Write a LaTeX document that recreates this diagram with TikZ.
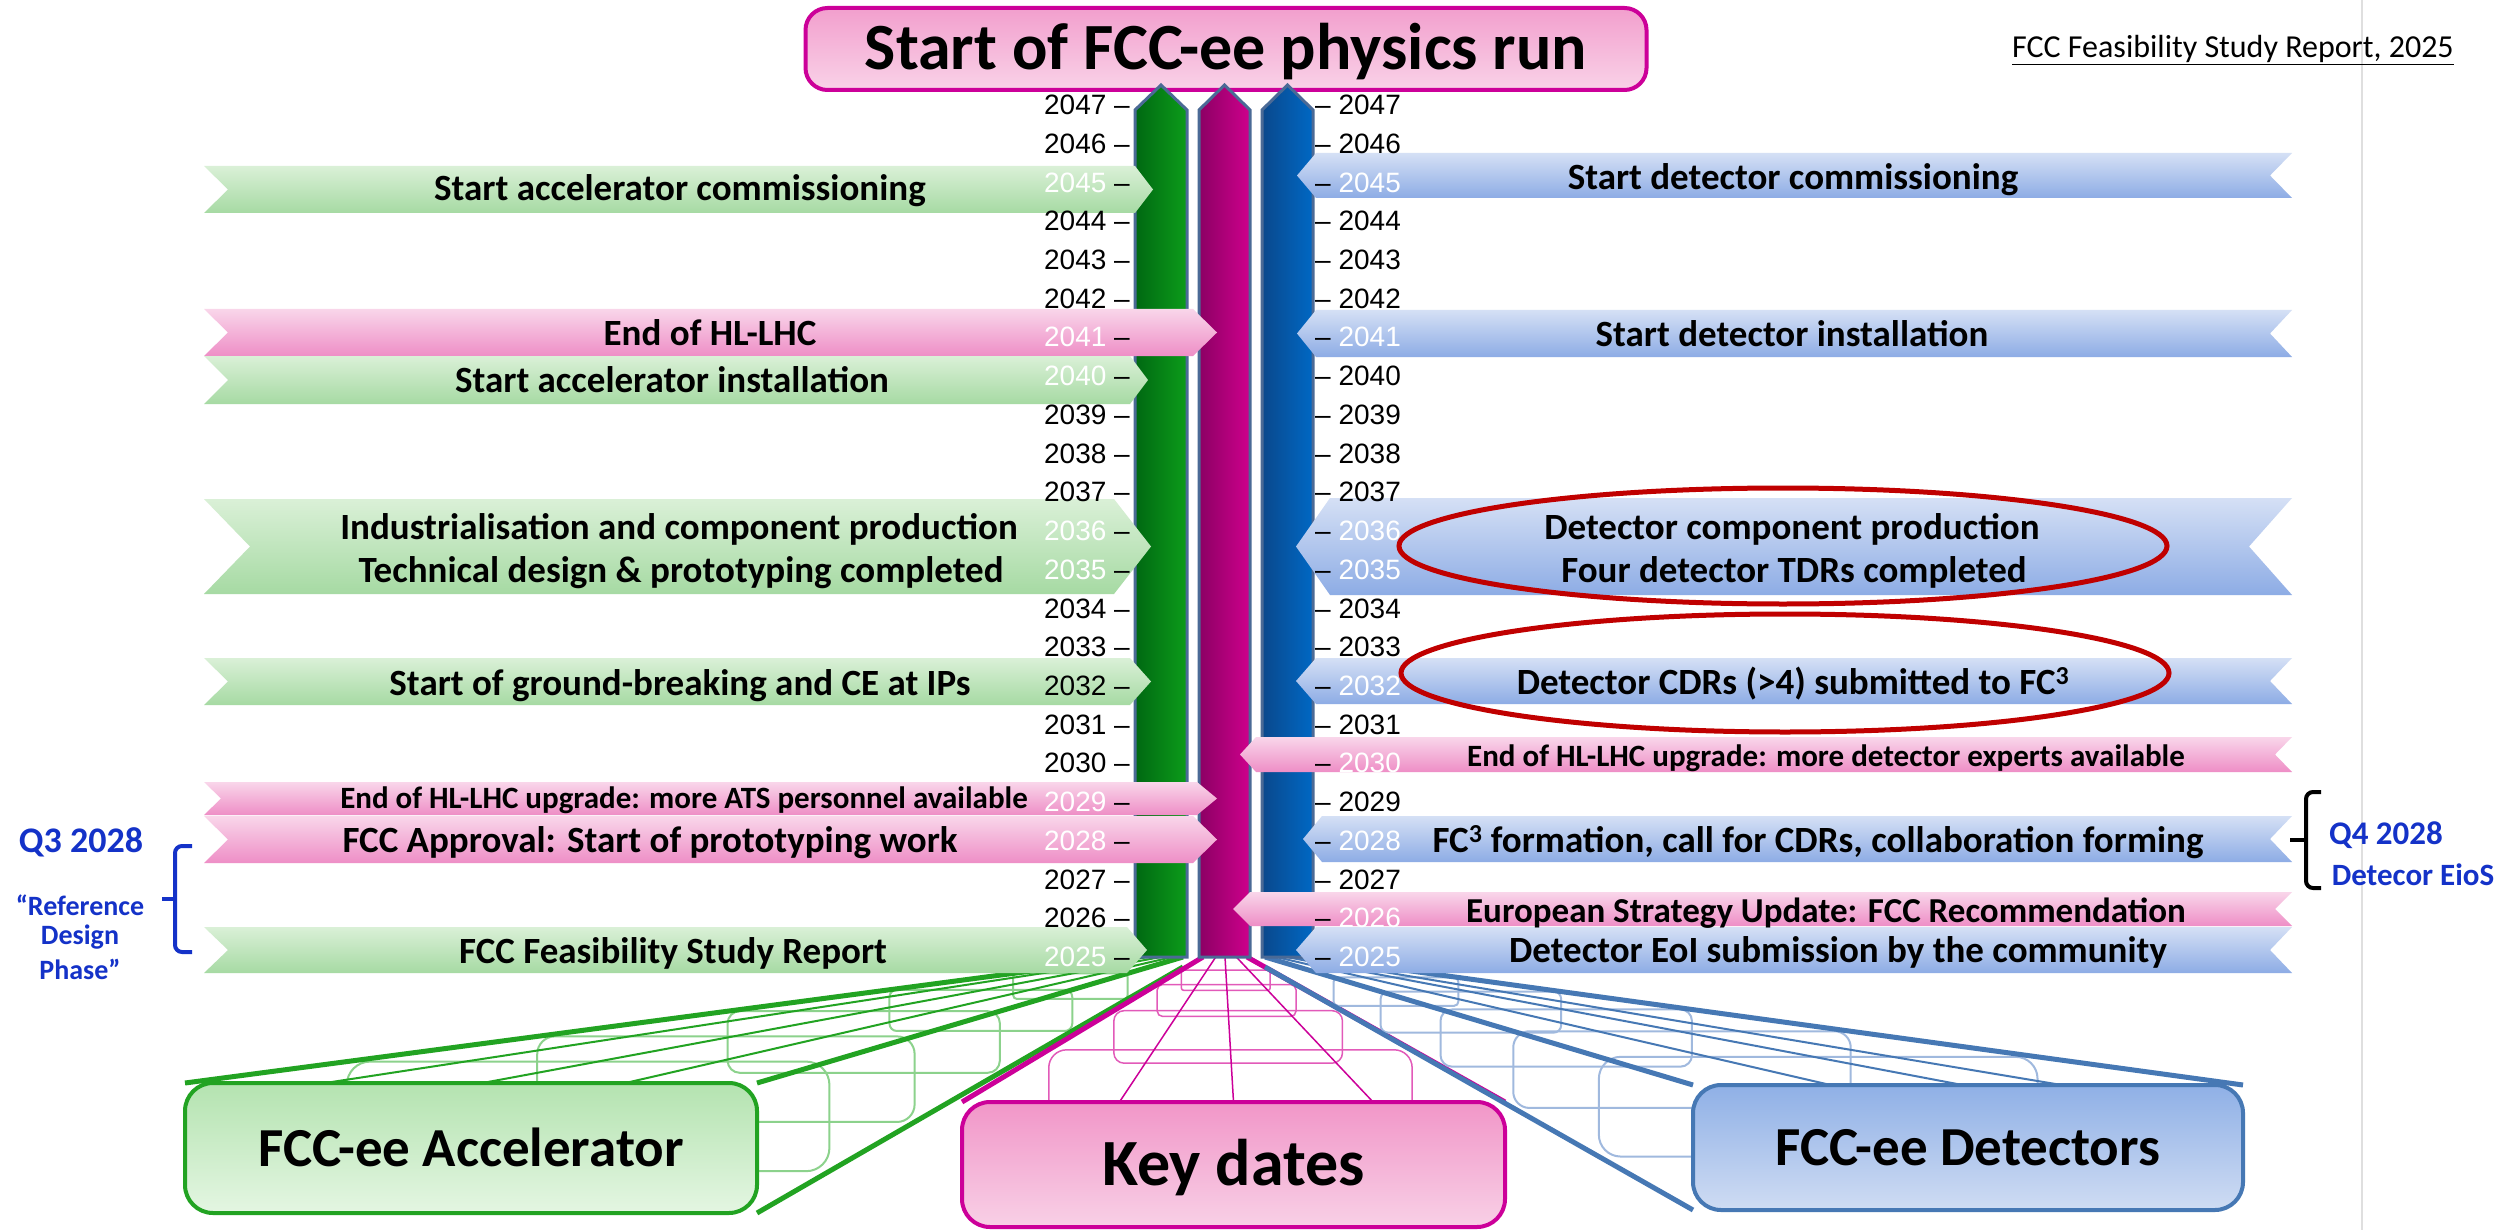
\documentclass[tikz,border=0pt]{standalone}
\usepackage{fontspec}
\setmainfont{Carlito}
\newfontfamily\yearfont{Liberation Sans}
\definecolor{gbarA}{RGB}{0,104,18}
\definecolor{gbarB}{RGB}{12,156,26}
\definecolor{mbarA}{RGB}{140,0,100}
\definecolor{mbarB}{RGB}{206,0,140}
\definecolor{bbarA}{RGB}{10,72,140}
\definecolor{bbarB}{RGB}{0,104,196}
\definecolor{barout}{RGB}{75,106,150}
\definecolor{gtop}{RGB}{218,240,215}
\definecolor{gbot}{RGB}{166,218,163}
\definecolor{ptop}{RGB}{249,214,234}
\definecolor{pbot}{RGB}{238,142,198}
\definecolor{btop}{RGB}{213,224,245}
\definecolor{bbot}{RGB}{141,172,229}
\definecolor{gline}{RGB}{34,163,34}
\definecolor{grib}{RGB}{140,210,140}
\definecolor{mline}{RGB}{204,0,153}
\definecolor{mrib}{RGB}{226,90,185}
\definecolor{bline}{RGB}{70,120,180}
\definecolor{brib}{RGB}{160,185,222}
\definecolor{annblue}{RGB}{20,50,200}
\definecolor{ellred}{RGB}{192,0,0}
\definecolor{gboxA}{RGB}{180,227,176}
\definecolor{gboxB}{RGB}{228,246,226}
\definecolor{pboxA}{RGB}{241,150,200}
\definecolor{pboxB}{RGB}{248,208,230}
\definecolor{bboxA}{RGB}{143,176,230}
\definecolor{bboxB}{RGB}{207,220,243}
\definecolor{ttlA}{RGB}{242,159,205}
\definecolor{ttlB}{RGB}{249,210,232}

\newcommand\ribs[2]{\foreach \t in {#1}{%
 \pgfmathsetmacro\xa{\fxa+\t*(\nxa-\fxa)}%
 \pgfmathsetmacro\ya{\fya+\t*(\nya-\fya)}%
 \pgfmathsetmacro\xb{\fxb+\t*(\nxb-\fxb)}%
 \pgfmathsetmacro\yb{\fyb+\t*(\nyb-\fyb)}%
 \pgfmathsetmacro\rr{28*\t}%
 \draw[#2,rounded corners=\rr pt] (\xa,\ya) rectangle (\xb,\yb);}}
\newcommand\topline[2]{\draw[#2] ({\nxa+#1*(\nxb-\nxa)},\nya) -- ({\fxa+#1*(\fxb-\fxa)},\fya);}
\newcommand\LB[6]{\path[#1] (204,#2) -- (#4,#2) -- (#5,{(#2+#3)/2}) -- (#4,#3) -- (204,#3) -- ({204+#6},{(#2+#3)/2}) -- cycle;}
\newcommand\RB[6]{\path[#1] (#4,{(#2+#3)/2}) -- (#5,#2) -- (2292,#2) -- ({2292-#6},{(#2+#3)/2}) -- (2292,#3) -- (#5,#3) -- cycle;}

\begin{document}
\begin{tikzpicture}[x=1pt,y=-1pt,
  gban/.style={top color=gtop,bottom color=gbot},
  pban/.style={top color=ptop,bottom color=pbot},
  bban/.style={top color=btop,bottom color=bbot},
  bantext/.style={font=\fontsize{37}{44}\selectfont\bfseries,inner sep=0pt,text height=24pt,text depth=0pt},
  smalltext/.style={font=\fontsize{31}{36}\selectfont\bfseries,inner sep=0pt,text height=20pt,text depth=0pt},
  yl/.style={font=\yearfont\fontsize{28}{30}\selectfont,inner sep=0pt},
  bigbox/.style={rounded corners=28pt,line width=4pt,inner sep=0pt,font=\fontsize{55}{60}\selectfont\bfseries,text height=36pt,text depth=0pt},
  ann/.style={annblue,font=\bfseries,inner sep=0pt},
  ell/.style={ellred,line width=5pt}]
\useasboundingbox (0,0) rectangle (2507,1230);
\fill[white] (0,0) rectangle (2507,1230);
\draw[gray!25,line width=2pt] (2362,0) -- (2362,1230);

% ---------- green extrusion ----------
\def\nxa{185}\def\nya{1083}\def\nxb{757}\def\nyb{1213}
\def\fxa{1137}\def\fya{957}\def\fxb{1183}\def\fyb{967}
\ribs{0.83,0.63,0.43,0.26,0.13}{grib,line width=2pt}
\foreach \f in {0.245,0.52,0.77}{\topline{\f}{gline,line width=2pt}}
\draw[gline,line width=5pt] (\nxa,\nya) -- (\fxa,\fya) (\nxb,\nya) -- (\fxb,\fya) (\nxb,\nyb) -- (\fxb,\fyb);
\node[bigbox,draw=gline,top color=gboxA,bottom color=gboxB,minimum width=572pt,minimum height=130pt] (acc) at (471,1148) {FCC-ee Accelerator};

% ---------- magenta extrusion ----------
\def\nxa{962}\def\nya{1102}\def\nxb{1505}\def\nyb{1227}
\def\fxa{1203}\def\fya{957}\def\fxb{1247}\def\fyb{967}
\ribs{0.64,0.37,0.19,0.09}{mrib,line width=1.5pt}
\foreach \f in {0.29,0.5,0.757}{\topline{\f}{mline,line width=1.5pt}}
\draw[mline,line width=5pt] (\nxa,\nya) -- (\fxa,\fya) (\nxb,\nya) -- (\fxb,\fya);
\node[bigbox,draw=mline,top color=pboxA,bottom color=pboxB,minimum width=543pt,minimum height=125pt,font=\fontsize{66}{70}\selectfont\bfseries,text height=42pt] (key) at (1233.5,1164.5) {Key dates};

% ---------- blue extrusion ----------
\def\nxa{1693}\def\nya{1085}\def\nxb{2243}\def\nyb{1210}
\def\fxa{1265}\def\fya{957}\def\fxb{1309}\def\fyb{967}
\ribs{0.78,0.58,0.41,0.27,0.16}{brib,line width=2pt}
\foreach \f in {0.25,0.49,0.67}{\topline{\f}{bline,line width=2pt}}
\draw[bline,line width=5pt] (\nxa,\nya) -- (\fxa,\fya) (\nxa,\nyb) -- (\fxa,\fyb) (\nxb,\nya) -- (\fxb,\fya);
\node[bigbox,draw=bline,top color=bboxA,bottom color=bboxB,minimum width=550pt,minimum height=125pt] (det) at (1968,1147.5) {FCC-ee Detectors};

% ---------- title ----------
\node[rounded corners=22pt,line width=4pt,draw=mline,top color=ttlA,bottom color=ttlB,minimum width=841pt,minimum height=82pt,inner sep=0pt,font=\fontsize{66}{70}\selectfont\bfseries,text height=42pt,text depth=0pt] (title) at (1226,49) {Start of FCC-ee physics run};
\node[font=\fontsize{32}{36}\selectfont,inner sep=0pt,anchor=base] (fsr) at (2233,58) {\underline{FCC Feasibility Study Report, 2025}};

% ---------- bars ----------
\path[draw=barout,line width=3pt,left color=gbarA,right color=gbarB] (1135,957) -- (1135,110) -- (1161,85) -- (1187,110) -- (1187,957) -- cycle;
\path[draw=barout,line width=3pt,left color=mbarA,right color=mbarB] (1199,957) -- (1199,110) -- (1224.5,85) -- (1250,110) -- (1250,957) -- cycle;
\path[draw=barout,line width=3pt,left color=bbarA,right color=bbarB] (1262,957) -- (1262,110) -- (1287.5,85) -- (1313,110) -- (1313,957) -- cycle;

% ---------- left banners ----------
\LB{gban}{166}{213}{1135}{1153}{24}
\LB{pban}{309}{356}{1193}{1217}{24}
\LB{gban}{356}{404}{1130}{1148}{24}
\LB{gban}{499}{594}{1114}{1151}{46}
\LB{gban}{658}{705}{1130}{1151}{24}
\LB{pban}{782}{815}{1197}{1217}{17}
\LB{pban}{816}{863}{1193}{1217}{24}
\LB{gban}{927}{973}{1127}{1147}{24}

% ---------- right banners ----------
\RB{bban}{153}{198}{1297}{1316}{22}
\RB{bban}{310}{357}{1297}{1316}{22}
\RB{bban}{498}{595}{1296}{1330}{43}
\RB{bban}{658}{704}{1296}{1316}{22}
\RB{pban}{737}{772}{1240}{1256}{17}
\RB{bban}{816}{862}{1303}{1322}{22}
\RB{pban}{892}{926}{1233}{1250}{17}
\RB{bban}{927}{973}{1296}{1316}{22}

% ---------- year labels ----------
\foreach \yr/\lc/\rc in {2047/black/black,2046/black/black,2045/white/white,2044/black/black,2043/black/black,2042/black/black,2041/white/white,2040/white/black,2039/black/black,2038/black/black,2037/black/black,2036/white/white,2035/white/white,2034/black/black,2033/black/black,2032/black/white,2031/black/black,2030/black/white,2029/white/black,2028/white/white,2027/black/black,2026/black/white,2025/white/white}{
  \pgfmathsetmacro\yy{957-(\yr-2025)*38.73}
  \node[yl,anchor=east,text=\lc] (L\yr) at (1130,\yy) {\yr\ \textcolor{black}{–}};
  \node[yl,anchor=west,text=\rc] (R\yr) at (1315,\yy) {\textcolor{black}{–}\ \yr};
}

% ---------- banner texts ----------
\node[bantext] (tacc1) at (680,189) {Start accelerator commissioning};
\node[bantext] (thl1) at (710,333) {End of HL-LHC};
\node[bantext] (tacc2) at (672,380) {Start accelerator installation};
\node[bantext] (tacc3) at (679,527) {Industrialisation and component production};
\node[bantext] (tacc4) at (681,570) {Technical design \& prototyping completed};
\node[bantext] (tacc5) at (680,683) {Start of ground-breaking and CE at IPs};
\node[smalltext] (thl2) at (684,798) {End of HL-LHC upgrade: more ATS personnel available};
\node[bantext] (tapp) at (650,840) {FCC Approval: Start of prototyping work};
\node[bantext] (tfsr) at (673,951) {FCC Feasibility Study Report};

\node[bantext] (tdet1) at (1793,178) {Start detector commissioning};
\node[bantext] (tdet2) at (1792,335) {Start detector installation};
\node[bantext] (tdet3) at (1792,527) {Detector component production};
\node[bantext] (tdet4) at (1794,570) {Four detector TDRs completed};
\node[bantext] (tdet5) at (1793,682) {Detector CDRs (>4) submitted to FC\textsuperscript{3}};
\node[smalltext] (thl3) at (1826,756) {End of HL-LHC upgrade: more detector experts available};
\node[bantext] (tfc3) at (1818,840) {FC\textsuperscript{3} formation, call for CDRs, collaboration forming};
\node[bantext,font=\fontsize{35}{40}\selectfont\bfseries] (tesu) at (1826,910) {European Strategy Update: FCC Recommendation};
\node[bantext] (teoi) at (1838,950) {Detector EoI submission by the community};

% ---------- ellipses ----------
\draw[ell] (1783,546) ellipse [x radius=384, y radius=58];
\draw[ell] (1785,673) ellipse [x radius=384, y radius=59];

% ---------- brackets and annotations ----------
\draw[annblue,line width=4pt,rounded corners=7pt] (192,846) -- (175,846) -- (175,952) -- (192,952);
\draw[annblue,line width=4pt] (175,899) -- (162,899);
\draw[black,line width=4pt,rounded corners=7pt] (2321,792) -- (2306,792) -- (2306,888) -- (2321,888);
\draw[black,line width=4pt] (2306,840) -- (2290,840);

\node[ann,font=\fontsize{36}{40}\selectfont\bfseries] (q3) at (81,842) {Q3 2028};
\node[ann,font=\fontsize{28}{32}\selectfont\bfseries] (rdp1) at (80,905) {“Reference};
\node[ann,font=\fontsize{28}{32}\selectfont\bfseries] (rdp2) at (80,937) {Design};
\node[ann,font=\fontsize{28}{32}\selectfont\bfseries] (rdp3) at (80,969) {Phase”};
\node[ann,font=\fontsize{33}{36}\selectfont\bfseries] (q4) at (2386,835) {Q4 2028};
\node[ann,font=\fontsize{31}{36}\selectfont\bfseries] (eios) at (2413,875) {Detecor EioS};
\end{tikzpicture}
\end{document}
